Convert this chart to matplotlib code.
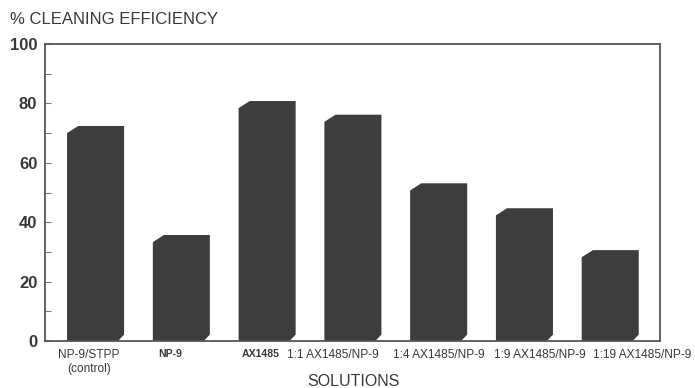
import matplotlib
matplotlib.use("Agg")
import matplotlib.pyplot as plt
from matplotlib.patches import Polygon
from matplotlib.ticker import MultipleLocator

plt.rcParams['font.family'] = ['Liberation Sans', 'DejaVu Sans']

# Cleaning efficiency per solution
solutions = ["NP-9/STPP\n(control)", "NP-9", "AX1485", "1:1 AX1485/NP-9",
             "1:4 AX1485/NP-9", "1:9 AX1485/NP-9", "1:19 AX1485/NP-9"]
efficiency = [72.4, 35.7, 80.8, 76.2, 53.1, 44.7, 30.6]

# label anchor offsets from each bar centre (in category units)
label_shift = [-0.08, -0.13, -0.08, -0.23, 0.0, 0.18, 0.37]

bar_color = "#3d3d3d"
text_color = "#383838"
width = 0.665
dx, dy = 0.13, 2.4   # bevel of the pseudo-3D bars

fig = plt.figure(figsize=(6.95, 3.88), dpi=100)
ax = fig.add_axes([0.0647, 0.1211, 0.9496 - 0.0647, 0.8866 - 0.1211])

for i, v in enumerate(efficiency):
    x0, x1 = i - width / 2, i + width / 2
    pts = [(x0, 0), (x0, v - dy), (x0 + dx, v), (x1, v),
           (x1, dy * 0.9), (x1 - dx * 0.55, 0)]
    ax.add_patch(Polygon(pts, closed=True, facecolor=bar_color,
                         edgecolor="none", zorder=2))

ax.set_xlim(-0.59, 6.58)
ax.set_ylim(0, 100)

ax.yaxis.set_major_locator(MultipleLocator(20))
ax.yaxis.set_minor_locator(MultipleLocator(10))
ax.tick_params(axis='y', which='both', direction='in', length=4,
               color="#777777", width=0.8, pad=5.5)
ax.tick_params(axis='y', which='major', labelsize=12, labelcolor=text_color)
for lab in ax.get_yticklabels():
    lab.set_fontweight('bold')

ax.set_xticks([i + s for i, s in enumerate(label_shift)])
ax.set_xticklabels(solutions, fontsize=8.6, color=text_color,
                   linespacing=1.2)
ax.tick_params(axis='x', length=0, pad=6)
for i, lab in enumerate(ax.get_xticklabels()):
    if solutions[i] in ("NP-9", "AX1485"):
        lab.set_fontsize(7.6)
        lab.set_fontweight('bold')

for sp in ax.spines.values():
    sp.set_color("#555555")
    sp.set_linewidth(1.3)

fig.text(10 / 695, 1 - 20 / 388, "% CLEANING EFFICIENCY", fontsize=12,
         color=text_color, ha='left', va='center')
fig.text(353 / 695, 1 - 382 / 388, "SOLUTIONS", fontsize=11.5,
         color=text_color, ha='center', va='center')

fig.savefig("out.png", dpi=100)
